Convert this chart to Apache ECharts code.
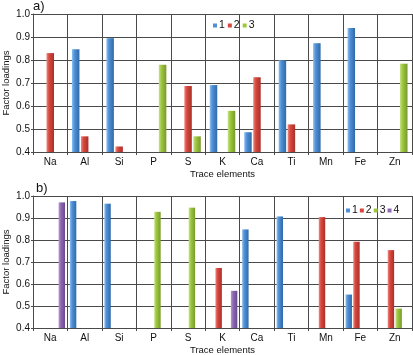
<!DOCTYPE html>
<html>
<head>
<meta charset="utf-8">
<script src="https://cdn.jsdelivr.net/npm/echarts@6/dist/echarts.min.js"></script>
<style>
  html, body { margin: 0; padding: 0; background: #fff; }
  #main { width: 413px; height: 355px; }
</style>
</head>
<body>
<div id="main"></div>
<script>
const elements = ['Na', 'Al', 'Si', 'P', 'S', 'K', 'Ca', 'Ti', 'Mn', 'Fe', 'Zn']

// panel a) three factors
const a1 = [null, 0.847, 0.895, null, null, 0.691, 0.486, 0.799, 0.873, 0.939, null]
const a2 = [0.83, 0.468, 0.424, null, 0.687, null, 0.725, 0.52, null, null, null]
const a3 = [null, null, null, 0.779, 0.468, 0.579, null, null, null, null, 0.784]

// panel b) four factors
const b1 = [null, 0.977, 0.965, null, null, null, 0.848, 0.907, null, 0.552, null]
const b2 = [null, null, null, null, null, 0.673, null, null, 0.904, 0.792, 0.754]
const b3 = [null, null, null, 0.928, 0.947, null, null, null, null, null, 0.488]
const b4 = [0.971, null, null, null, null, 0.569, null, null, null, null, null]

const yTicks = { min: 0.4, max: 1.0, interval: 0.1 }

const grad = (light, mid, dark) => new echarts.graphic.LinearGradient(0, 0, 1, 0, [
  { offset: 0, color: light },
  { offset: 0.35, color: mid },
  { offset: 1, color: dark }
])
const colors = {
  1: grad('#8cc0ee', '#4f8fd6', '#2f6aa8'),
  2: grad('#ee8a82', '#d8473d', '#a8302a'),
  3: grad('#c6e283', '#9dc63f', '#789a2c'),
  4: grad('#b79ad6', '#8e68b3', '#6a4a8c')
}
const legendColors = { 1: '#4f8fd6', 2: '#d8473d', 3: '#9dc63f', 4: '#8e68b3' }

const font = 'Liberation Sans, Arial, sans-serif'
const lineColor = '#4a4a4a'
const textColor = '#111'

function xAxisFor (gridIndex) {
  return {
    type: 'category',
    gridIndex: gridIndex,
    data: elements,
    name: 'Trace elements',
    nameLocation: 'center',
    nameGap: 17,
    nameMoveOverlap: false,
    nameTextStyle: { fontFamily: font, fontSize: 9.5, color: textColor },
    axisLine: { lineStyle: { color: lineColor } },
    axisTick: { show: true, length: 3, lineStyle: { color: lineColor } },
    axisLabel: { fontFamily: font, fontSize: 10, color: textColor, margin: 5, interval: 0 },
    splitLine: { show: true, interval: 0, lineStyle: { color: lineColor, width: 1 } }
  }
}
function yAxisFor (gridIndex) {
  return {
    type: 'value',
    gridIndex: gridIndex,
    min: yTicks.min,
    max: yTicks.max,
    interval: yTicks.interval,
    name: 'Factor loadings',
    nameLocation: 'center',
    nameGap: 22,
    nameMoveOverlap: false,
    nameTextStyle: { fontFamily: font, fontSize: 9.5, color: textColor },
    axisLine: { show: true, lineStyle: { color: lineColor } },
    axisTick: { show: true, length: 2, lineStyle: { color: lineColor } },
    axisLabel: { fontFamily: font, fontSize: 10, color: textColor, margin: 3, formatter: v => v.toFixed(1) },
    splitLine: { show: true, lineStyle: { color: lineColor, width: 1 } }
  }
}
function bar (name, data, idx, gap) {
  return {
    name: name,
    type: 'bar',
    xAxisIndex: idx,
    yAxisIndex: idx,
    data: data,
    barGap: '20%',
    barCategoryGap: gap,
    itemStyle: { color: colors[name] },
    z: 3
  }
}

const chart = echarts.init(document.getElementById('main'))
chart.setOption({
  animation: false,
  grid: [
    { left: 33, right: 1, top: 14, height: 138, outerBoundsMode: 'none', containLabel: false },
    { left: 33, right: 1, top: 196, height: 132, outerBoundsMode: 'none', containLabel: false }
  ],
  legend: [
    {
      data: ['1', '2', '3'].map(n => ({ name: n, itemStyle: { color: legendColors[n] } })),
      left: 208, top: 15,
      itemWidth: 4, itemHeight: 4, itemGap: 3,
      icon: 'rect',
      textStyle: { fontFamily: font, fontSize: 10.5, color: textColor, padding: [0, 0, 0, -3] }
    },
    {
      data: ['1', '2', '3', '4'].map(n => ({ name: n, itemStyle: { color: legendColors[n] } })),
      left: 341, top: 200,
      itemWidth: 4, itemHeight: 4, itemGap: 2,
      icon: 'rect',
      textStyle: { fontFamily: font, fontSize: 10.5, color: textColor, padding: [0, 0, 0, -3] }
    }
  ],
  xAxis: [xAxisFor(0), xAxisFor(1)],
  yAxis: [yAxisFor(0), yAxisFor(1)],
  series: [
    bar('1', a1, 0, '26%'),
    bar('2', a2, 0, '26%'),
    bar('3', a3, 0, '26%'),
    bar('1', b1, 1, '14%'),
    bar('2', b2, 1, '14%'),
    bar('3', b3, 1, '14%'),
    bar('4', b4, 1, '14%')
  ],
  graphic: [
    { type: 'text', left: 33, top: 0, style: { text: 'a)', font: '13px ' + font, fill: textColor } },
    { type: 'text', left: 36, top: 182, style: { text: 'b)', font: '13px ' + font, fill: textColor } }
  ]
})
</script>
</body>
</html>
